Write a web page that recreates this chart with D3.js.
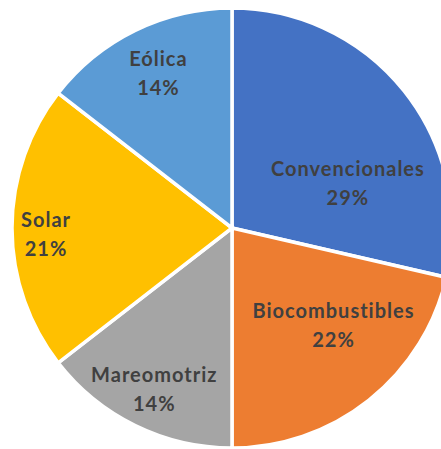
<!DOCTYPE html>
<html>
<head>
<meta charset="utf-8">
<script src="https://cdn.jsdelivr.net/npm/d3@7"></script>
<style>
  html, body { margin: 0; padding: 0; background: #ffffff; }
  svg { display: block; }
</style>
</head>
<body>
<svg id="pie"></svg>
<script>
// chart data
const categories = ["Convencionales", "Biocombustibles", "Mareomotriz", "Solar", "Eólica"];
const shares = [28.6, 21.4, 14.5, 21.0, 14.5];
const percentLabels = ["29%", "22%", "14%", "21%", "14%"];

const colors = ["#4472C4", "#ED7D31", "#A5A5A5", "#FFC000", "#5B9BD5"];

function drawPie() {
  const width = 441, height = 449;
  const cx = 232, cy = 228, radius = 220;

  const svg = d3.select("#pie")
    .attr("width", width)
    .attr("height", height);

  const data = categories.map((c, i) => ({ name: c, value: shares[i], label: percentLabels[i], color: colors[i] }));

  const pie = d3.pie()
    .value(d => d.value)
    .sort(null);

  const arc = d3.arc()
    .innerRadius(0)
    .outerRadius(radius);

  const g = svg.append("g")
    .attr("transform", `translate(${cx},${cy})`);

  const arcs = pie(data);

  g.selectAll("path.slice")
    .data(arcs)
    .enter()
    .append("path")
    .attr("class", "slice")
    .attr("d", arc)
    .attr("fill", d => d.data.color)
    .attr("stroke", "#ffffff")
    .attr("stroke-width", 3.5)
    .attr("stroke-linejoin", "miter");

  // label placement like excel "best fit": angle (deg, clockwise from top) and fraction of radius
  const labelPolar = [[68.7, 0.563], [133.8, 0.636], [205.9, 0.814], [268.2, 0.848], [334.4, 0.779]];

  const labels = g.selectAll("text.lbl")
    .data(arcs)
    .enter()
    .append("text")
    .attr("class", "lbl")
    .attr("text-anchor", "middle")
    .attr("font-family", "Lato, 'Open Sans', sans-serif")
    .attr("font-weight", "bold")
    .attr("font-size", 20)
    .attr("letter-spacing", 1)
    .attr("fill", "#404040")
    .attr("transform", (d, i) => {
      const a = labelPolar[i][0] * Math.PI / 180;
      const r = labelPolar[i][1] * radius;
      return `translate(${r * Math.sin(a)},${-r * Math.cos(a)})`;
    });

  labels.append("tspan")
    .attr("x", 0.5)
    .attr("y", -7)
    .text(d => d.data.name);

  labels.append("tspan")
    .attr("x", 0.5)
    .attr("y", 22)
    .text(d => d.data.label);
}

window.addEventListener("DOMContentLoaded", drawPie);
</script>
</body>
</html>
